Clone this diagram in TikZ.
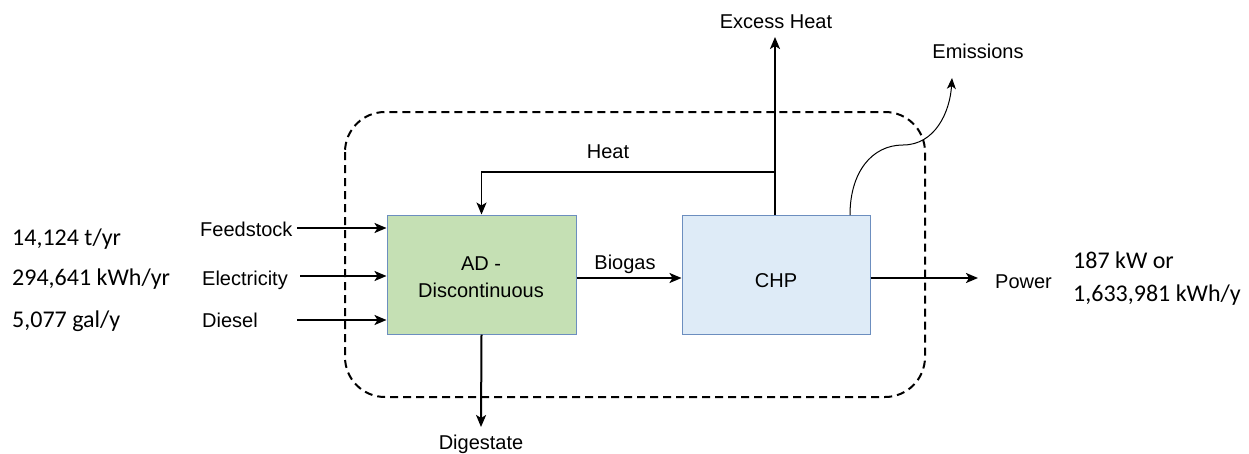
\documentclass[tikz,border=0pt]{standalone}
\usepackage{fontspec}
\setmainfont{Liberation Sans}
\newfontfamily\calfont{Carlito}
\usetikzlibrary{arrows.meta}
\begin{document}
\begin{tikzpicture}[x=1pt,y=-1pt,
  lbl/.style={font=\fontsize{20}{24}\selectfont, inner sep=0pt, anchor=base},
  num/.style={font=\calfont\fontsize{24}{29}\selectfont, inner sep=0pt, anchor=base west},
  flow/.style={line width=2pt, -{Stealth[length=12pt,width=10pt,inset=3pt]}},
  thinflow/.style={line width=1.3pt, -{Stealth[length=12pt,width=10pt,inset=3pt]}},
  procbox/.style={draw=#1!70!black, line width=1pt, minimum width=189pt, minimum height=119pt, inner sep=0pt, font=\fontsize{20}{24}\selectfont, align=center}
]
\definecolor{adgreen}{HTML}{C5E0B4}
\definecolor{chpblue}{HTML}{DEEBF7}
\definecolor{boxedge}{HTML}{6C8EBF}
\useasboundingbox (0,0) rectangle (1249,453);
\fill[white] (0,0) rectangle (1249,453);

% system boundary
\draw[line width=2pt, dash pattern=on 8pt off 5pt, rounded corners=40pt] (345,112) rectangle (925,397);

% process boxes
\node[draw=boxedge, fill=adgreen, line width=1pt, minimum width=189pt, minimum height=119pt, inner sep=0pt] (AD) at (481.5,274.5) {};
\node[draw=boxedge, fill=chpblue, line width=1pt, minimum width=188pt, minimum height=119pt, inner sep=0pt] (CHP) at (776,274.5) {};
\node[lbl] (adt1) at (481,270) {AD -};
\node[lbl] (adt2) at (481,297) {Discontinuous};
\node[lbl] (chpt) at (776,287) {CHP};

% coordinates
\coordinate (feedS) at (297,228);
\coordinate (elecS) at (300,276);
\coordinate (dieS) at (297,320);
\coordinate (flowY) at (0,278);
\coordinate (digE) at (481,427);
\coordinate (exE) at (775,37);
\coordinate (hc) at (775,172);
\coordinate (emS) at (850,215);
\coordinate (emM) at (903,145);
\coordinate (emE) at (952,78);
\coordinate (powE) at (978,278);

% input labels and values
\node[num] (v1) at (12,245) {14,124 t/yr};
\node[num] (v2) at (12,285) {294,641 kWh/yr};
\node[num] (v3) at (12,327) {5,077 gal/y};
\node[lbl, anchor=base west] (feed) at (200,236) {Feedstock};
\node[lbl, anchor=base west] (elec) at (202,285) {Electricity};
\node[lbl, anchor=base west] (dies) at (202,327) {Diesel};

% input arrows
\draw[flow] (feedS) -- (AD.west |- feedS);
\draw[flow] (elecS) -- (AD.west |- elecS);
\draw[flow] (dieS) -- (AD.west |- dieS);

% biogas
\draw[flow] (AD.east |- flowY) -- (CHP.west |- flowY);
\node[lbl] (biogas) at (625,269) {Biogas};

% digestate
\draw[flow] (AD.south) -- (digE);
\node[lbl] (dig) at (481,449) {Digestate};

% excess heat
\draw[flow] (CHP.north -| exE) -- (exE);
\node[lbl] (exh) at (776,28) {Excess Heat};

% heat loop
\draw[thinflow] (hc) -| (AD.north);
\node[lbl] (heat) at (608,158) {Heat};

% emissions
\draw[line width=1pt, -{Stealth[length=11pt,width=9pt,inset=3pt]}] (emS) .. controls (850,172) and (872,145) .. (emM) .. controls (935,145) and (950,112) .. (emE);
\node[lbl] (em) at (978,58) {Emissions};

% power
\draw[flow] (CHP.east |- flowY) -- (powE);
\node[lbl, anchor=base west] (pow) at (995,288) {Power};
\node[num] (p1) at (1073,268) {187 kW or};
\node[num] (p2) at (1073,301) {1,633,981 kWh/y};
\end{tikzpicture}
\end{document}
